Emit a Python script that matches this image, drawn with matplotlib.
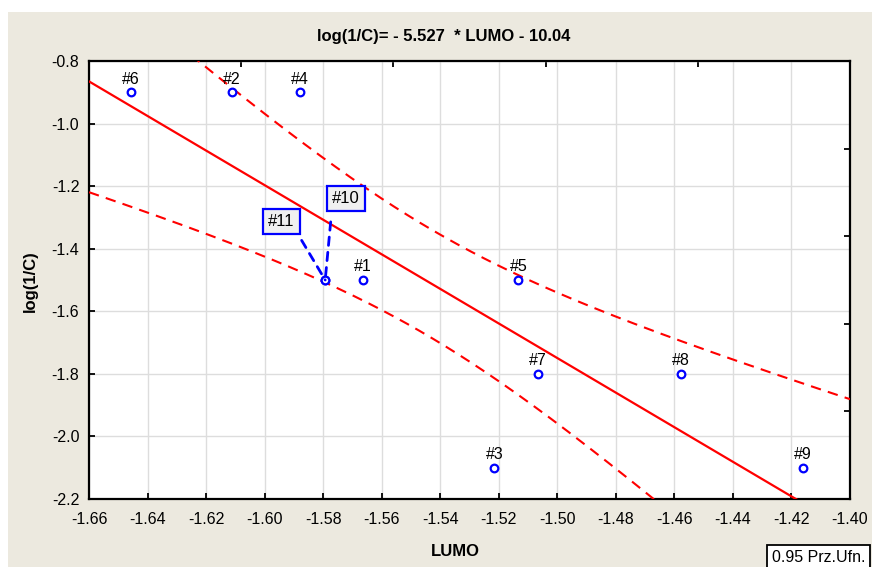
import numpy as np
import matplotlib
matplotlib.use("Agg")
import matplotlib.pyplot as plt
from matplotlib.patches import Rectangle

plt.rcParams["font.family"] = ["Liberation Sans", "DejaVu Sans"]

# Observations: LUMO energy vs. log(1/C)
labels = ["#1", "#2", "#3", "#4", "#5", "#6", "#7", "#8", "#9", "#10", "#11"]
lumo = [-1.5663, -1.6111, -1.5215, -1.5879, -1.5133, -1.6456,
        -1.5065, -1.4579, -1.4162, -1.5793, -1.5793]
log_inv_c = [-1.5, -0.9, -2.1, -0.9, -1.5, -0.9,
             -1.8, -1.8, -2.1, -1.5, -1.5]

# Fitted model shown in the title
SLOPE = -5.527
INTERCEPT = -10.04
T_975_DF9 = 2.262  # Student t, 95% two-sided, n - 2 = 9

x_ticks = [-1.66, -1.64, -1.62, -1.60, -1.58, -1.56, -1.54, -1.52,
           -1.50, -1.48, -1.46, -1.44, -1.42, -1.40]
y_ticks = [-0.8, -1.0, -1.2, -1.4, -1.6, -1.8, -2.0, -2.2]
top_ticks = [-1.608, -1.556, -1.504, -1.452]
right_ticks = [-1.08, -1.36, -1.64, -1.92]

BEIGE = "#ECE9DF"


def confidence_band(x_grid, x, y):
    x = np.asarray(x)
    y = np.asarray(y)
    n = len(x)
    resid = y - (SLOPE * x + INTERCEPT)
    s = np.sqrt(np.sum(resid ** 2) / (n - 2))
    sxx = np.sum((x - x.mean()) ** 2)
    half = T_975_DF9 * s * np.sqrt(1.0 / n + (x_grid - x.mean()) ** 2 / sxx)
    fit = SLOPE * x_grid + INTERCEPT
    return fit, fit - half, fit + half


fig = plt.figure(figsize=(8.72, 5.67), dpi=100, facecolor="white")
fig.patches.append(Rectangle((8 / 872, 0), 1, 555 / 567, transform=fig.transFigure,
                             facecolor=BEIGE, edgecolor="none", zorder=-10))

ax = fig.add_axes([89 / 872, 68 / 567, 761 / 872, 438 / 567])
ax.set_facecolor("white")

x_grid = np.linspace(-1.66, -1.40, 300)
fit, lower, upper = confidence_band(x_grid, lumo, log_inv_c)
ax.plot(x_grid, fit, color="red", lw=1.6, zorder=3)
for band in (lower, upper):
    ax.plot(x_grid, band, color="red", lw=1.5, ls=(0, (5, 3.5)), zorder=3)

ax.plot(lumo, log_inv_c, ls="none", marker="o", ms=5.5, mfc="white",
        mec="blue", mew=1.6, zorder=5)

for name, x, y in zip(labels, lumo, log_inv_c):
    if name in ("#10", "#11"):
        continue
    ax.annotate(name, (x, y), xytext=(0, 4), textcoords="offset points",
                ha="center", va="bottom", fontsize=11.5, zorder=6)

# Overlapping points get boxed labels with leader lines
box_style = dict(boxstyle="square,pad=0.3", facecolor="#F0F0F0",
                 edgecolor="blue", lw=1.6)
ax.annotate("#10", (lumo[9], log_inv_c[9]), xytext=(5, 53),
            textcoords="offset points", ha="left", va="bottom", fontsize=12,
            bbox=box_style, zorder=7,
            arrowprops=dict(arrowstyle="-", color="blue", lw=2,
                            ls=(0, (3, 2.5)), relpos=(0.0, 0.0),
                            shrinkA=7, shrinkB=0))
ax.annotate("#11", (lumo[10], log_inv_c[10]), xytext=(-22, 37),
            textcoords="offset points", ha="right", va="bottom", fontsize=12,
            bbox=box_style, zorder=7,
            arrowprops=dict(arrowstyle="-", color="blue", lw=2,
                            ls=(0, (3, 2.5)), relpos=(1.0, 0.0),
                            shrinkA=5, shrinkB=0))

ax.set_xlim(-1.66, -1.40)
ax.set_ylim(-2.2, -0.8)
ax.set_xticks(x_ticks)
ax.set_yticks(y_ticks)
ax.set_xticklabels([f"{v:.2f}" for v in x_ticks], fontsize=11.5)
ax.set_yticklabels([f"{v:.1f}" for v in y_ticks], fontsize=11.5)
ax.tick_params(direction="in", length=4, width=1.3, color="black")
ax.tick_params(axis="x", pad=9)
ax.tick_params(axis="y", pad=7)
ax.grid(True, color="#DDDDDD", lw=1)
ax.set_axisbelow(True)
for spine in ax.spines.values():
    spine.set_linewidth(1.6)

sec_top = ax.secondary_xaxis("top")
sec_top.set_xticks(top_ticks)
sec_top.tick_params(direction="in", length=4, width=1.3, labeltop=False)
sec_top.spines["top"].set_visible(False)
sec_right = ax.secondary_yaxis("right")
sec_right.set_yticks(right_ticks)
sec_right.tick_params(direction="in", length=4, width=1.3, labelright=False)
sec_right.spines["right"].set_visible(False)

fig.text(444 / 872, 1 - 37 / 567, "log(1/C)= - 5.527  * LUMO - 10.04",
         ha="center", va="center", fontsize=12, fontweight="bold")
fig.text(455 / 872, 1 - 551 / 567, "LUMO", ha="center", va="center",
         fontsize=12, fontweight="bold")
fig.text(30 / 872, 1 - 281 / 567, "log(1/C)", ha="center", va="center",
         rotation=90, fontsize=12, fontweight="bold")
fig.text(772 / 872, 1 - 557 / 567, "0.95 Prz.Ufn.", ha="left", va="center",
         fontsize=11.5,
         bbox=dict(boxstyle="square,pad=0.3", facecolor="white",
                   edgecolor="black", lw=1.3))

fig.savefig("out.png", dpi=100, facecolor=fig.get_facecolor())
